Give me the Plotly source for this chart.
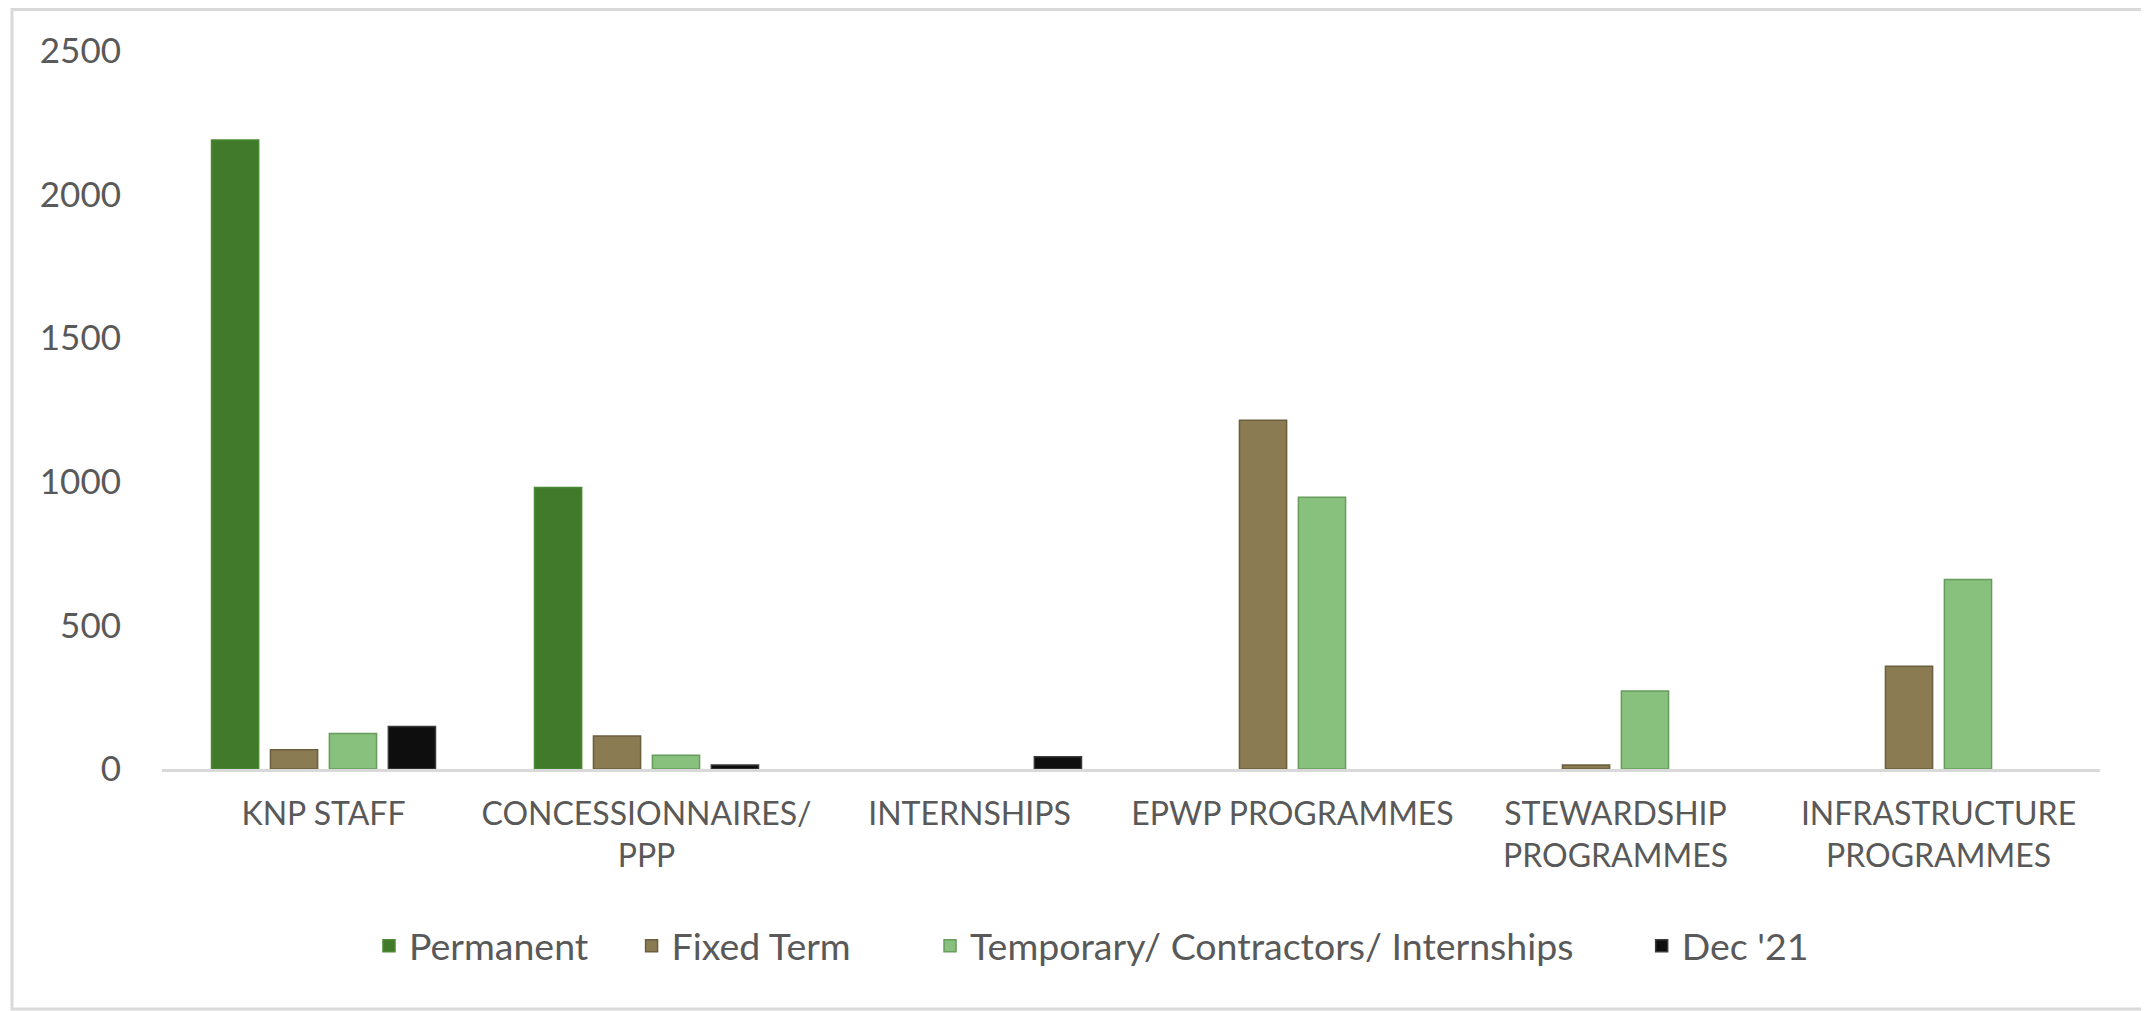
import plotly.graph_objects as go

categories = ["KNP STAFF", "CONCESSIONNAIRES/<br>PPP", "INTERNSHIPS", "EPWP PROGRAMMES",
              "STEWARDSHIP<br>PROGRAMMES", "INFRASTRUCTURE<br>PROGRAMMES"]
series_names = ["Permanent", "Fixed Term", "Temporary/ Contractors/ Internships", "Dec '21"]
# None = no bar shown for that category
permanent = [2190, 980, None, None, None, None]
fixed_term = [67, 115, None, 1214, 14, 358]
temporary = [124, 48, None, 946, 272, 660]
dec_21 = [148, 14, 43, None, None, None]
y_ticks = [0, 500, 1000, 1500, 2000, 2500]

fills = ["#417A2B", "#8A7B53", "#88C07E", "#0E0E0E"]
edges = ["#4A8A33", "#6B5F3E", "#679C5C", "#3A3A3A"]
values = [permanent, fixed_term, temporary, dec_21]

FONT = "Lato"
TXT = "#595959"

# page is offset by the browser's default 8px body margin
W, H = 2141, 1003
L, R, T, B = 154, 49, 43, 242
pw, ph = W - L - R, H - T - B

# legend entry positions (paper x of each legend box's left edge)
legend_x = [0.1068, 0.2423, 0.3963, 0.7635]
legend_y = -0.2465

fig = go.Figure()
for i, (name, vals, fc, ec) in enumerate(zip(series_names, values, fills, edges)):
    fig.add_trace(go.Bar(
        x=categories, y=vals, name=name,
        legend="legend" if i == 0 else f"legend{i + 1}",
        marker=dict(color=fc, line=dict(color=ec, width=1.5)),
    ))

legend_common = dict(orientation="h", yanchor="middle", xanchor="left",
                     font=dict(family=FONT, size=37.5, color=TXT),
                     bgcolor="rgba(0,0,0,0)", borderwidth=0)

layout_legends = {}
for i, lx in enumerate(legend_x):
    key = "legend" if i == 0 else f"legend{i + 1}"
    layout_legends[key] = dict(x=lx, y=legend_y, **legend_common)

fig.update_layout(
    width=W, height=H,
    margin=dict(l=L, r=R, t=T, b=B),
    paper_bgcolor="white", plot_bgcolor="white",
    barmode="group", bargap=0.27, bargroupgap=0.2,
    font=dict(family=FONT, color=TXT, size=32),
    showlegend=True,
    xaxis=dict(showgrid=False, showline=True, linecolor="#D9D9D9", linewidth=3,
               ticks="", tickfont=dict(family=FONT, size=32, color=TXT),
               ticklabelstandoff=15, fixedrange=True, automargin=False),
    yaxis=dict(range=[0, 2500], tickvals=y_ticks, showgrid=False, zeroline=False,
               showline=False, ticks="", tickfont=dict(family=FONT, size=35, color=TXT),
               ticklabelstandoff=40, fixedrange=True, automargin=False),
    shapes=[dict(type="rect", xref="paper", yref="paper",
                 x0=(4 - L) / pw, x1=(2139 - L) / pw,
                 y0=(H - B - 1001) / ph, y1=(H - B - 1.5) / ph,
                 line=dict(color="#D9D9D9", width=3), layer="below")],
    **layout_legends,
)

fig.write_html("out.html")
